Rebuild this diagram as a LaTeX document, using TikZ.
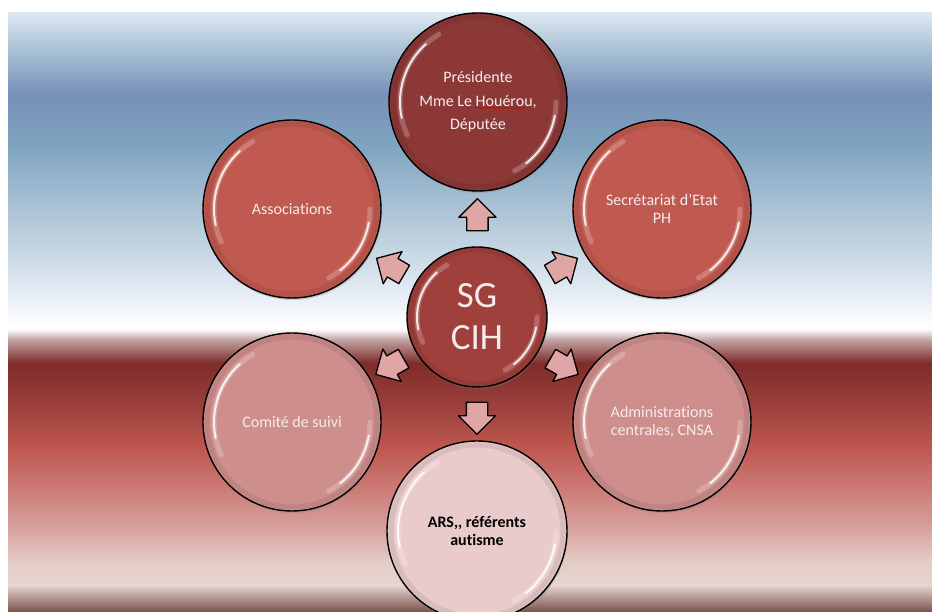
\documentclass[tikz,border=0pt]{standalone}
\usepackage{fontspec}
\setmainfont{Carlito}[Ligatures={TeX,NoCommon}]
\usetikzlibrary{shapes.arrows,shadows,calc,decorations.pathmorphing}
\definecolor{bgA}{HTML}{7A5048}
\definecolor{bgB}{HTML}{E6D6D0}
\definecolor{bgC}{HTML}{E4CCC6}
\definecolor{bgD}{HTML}{D8A09C}
\definecolor{bgE}{HTML}{CC7A76}
\definecolor{bgF}{HTML}{C05850}
\definecolor{bgG}{HTML}{9C403C}
\definecolor{bgH}{HTML}{7E2C2A}
\definecolor{bgI}{HTML}{C0A0A0}
\definecolor{bgJ}{HTML}{FBF6F6}
\definecolor{bgK}{HTML}{FFFFFF}
\definecolor{bgL}{HTML}{E8EEF6}
\definecolor{bgM}{HTML}{C8D8E4}
\definecolor{bgN}{HTML}{A8C0D4}
\definecolor{bgO}{HTML}{7EA4BF}
\definecolor{bgP}{HTML}{7890B8}
\definecolor{bgQ}{HTML}{A8C0D4}
\definecolor{bgR}{HTML}{DCE8F2}
\definecolor{presFill}{HTML}{8B3836}
\definecolor{assocFill}{HTML}{C0594F}
\definecolor{pinkFill}{HTML}{CD8E8C}
\definecolor{arsFill}{HTML}{E8CBCA}
\definecolor{sgFill}{HTML}{A0403D}
\definecolor{ballText}{HTML}{F7ECEC}
\definecolor{arrowFill}{HTML}{E0A6A5}
\pgfdeclareverticalshading{bgshade}{100bp}{color(0bp)=(bgA); color(25bp)=(bgA); color(27.25bp)=(bgB); color(29.17bp)=(bgC); color(32.10bp)=(bgD); color(35.35bp)=(bgE); color(38.61bp)=(bgF); color(42.19bp)=(bgG); color(45.78bp)=(bgH); color(47.70bp)=(bgI); color(48.54bp)=(bgJ); color(48.79bp)=(bgK); color(51.29bp)=(bgL); color(54.88bp)=(bgM); color(59.14bp)=(bgN); color(63.98bp)=(bgO); color(68.24bp)=(bgP); color(71.83bp)=(bgQ); color(75bp)=(bgR); color(100bp)=(bgR)}
\newcommand\glossarcs[2]{%
  \draw[black, line width=5pt, opacity=0.07] (#1.center) circle[radius=#2+7pt];
  \draw[white, line width=5pt, opacity=0.22, line cap=round] ($(#1.center)+(120:#2)$) arc[start angle=120, end angle=205, radius=#2];
  \draw[white, line width=2pt, opacity=0.85, line cap=round] ($(#1.center)+(132:#2)$) arc[start angle=132, end angle=192, radius=#2];
  \draw[white, line width=5pt, opacity=0.22, line cap=round] ($(#1.center)+(0:#2)$) arc[start angle=0, end angle=-62, radius=#2];
  \draw[white, line width=2pt, opacity=0.85, line cap=round] ($(#1.center)+(-10:#2)$) arc[start angle=-10, end angle=-52, radius=#2];
}
\tikzset{
  ball/.style={circle, draw=black, line width=1.4pt, minimum size=178pt, inner sep=0pt,
    align=center, text=ballText, font=\fontsize{16}{18}\selectfont,
    drop shadow={opacity=0.35, shadow xshift=0.8pt, shadow yshift=-2pt}},
  blockarrow/.style={single arrow, draw=black, line width=1.3pt, line join=round,
    fill=arrowFill, minimum height=32pt, minimum width=36pt,
    single arrow head extend=8pt, single arrow tip angle=90, inner xsep=0pt, inner ysep=10pt}
}
\begin{document}
\begin{tikzpicture}[x=1pt, y=1pt]
\path[use as bounding box] (0,0) rectangle (932,612);
\clip (0,0) rectangle (932,612);
\fill[white] (0,0) rectangle (932,612);
\shade[shading=bgshade] (8,0) rectangle (932,599);
% circles
\node[ball, fill=presFill, font=\fontsize{16}{23.5}\selectfont] (pres) at (478,510) {Présidente\\Mme Le Houérou,\\Députée};
\node[ball, fill=assocFill] (assoc) at (292,403) {Associations};
\node[ball, fill=assocFill] (secr) at (662,403) {Secrétariat d’Etat\\PH};
\node[ball, fill=pinkFill] (comite) at (292,190) {Comité de suivi};
\node[ball, fill=pinkFill] (admin) at (662,190) {Administrations\\centrales, CNSA};
\node[ball, fill=arsFill, minimum size=180pt, text=black, font=\bfseries\fontsize{16}{17.7}\selectfont] (ars) at (477,81) {ARS,\kern0pt, référents\\autisme};
\node[ball, fill=sgFill, minimum size=140pt, font=\fontsize{37}{42}\selectfont] (sg) at (477,295) {SG\\CIH};
\glossarcs{pres}{78pt}
\glossarcs{assoc}{78pt}
\glossarcs{secr}{78pt}
\glossarcs{comite}{78pt}
\glossarcs{admin}{78pt}
\glossarcs{ars}{79pt}
\glossarcs{sg}{60pt}
% spell-check underline
\coordinate (u1) at ($(pres.center)+(-3,-6)$);
\coordinate (u2) at ($(pres.center)+(47,-6)$);
\draw[red!80!black, line width=0.5pt, decorate, decoration={snake, amplitude=0.5pt, segment length=3pt}] (u1) -- (u2);
% block arrows
\node[blockarrow, rotate=90] (a1) at ($(sg.center)!97pt!(pres.center)$) {};
\node[blockarrow, rotate=149.7] (a2) at ($(sg.center)!95pt!(assoc.center)$) {};
\node[blockarrow, rotate=30.3] (a3) at ($(sg.center)!95pt!(secr.center)$) {};
\node[blockarrow, rotate=209.6] (a4) at ($(sg.center)!95pt!(comite.center)$) {};
\node[blockarrow, rotate=-29.6] (a5) at ($(sg.center)!95pt!(admin.center)$) {};
\node[blockarrow, rotate=-90] (a6) at ($(sg.center)!96pt!(ars.center)$) {};
\end{tikzpicture}
\end{document}
